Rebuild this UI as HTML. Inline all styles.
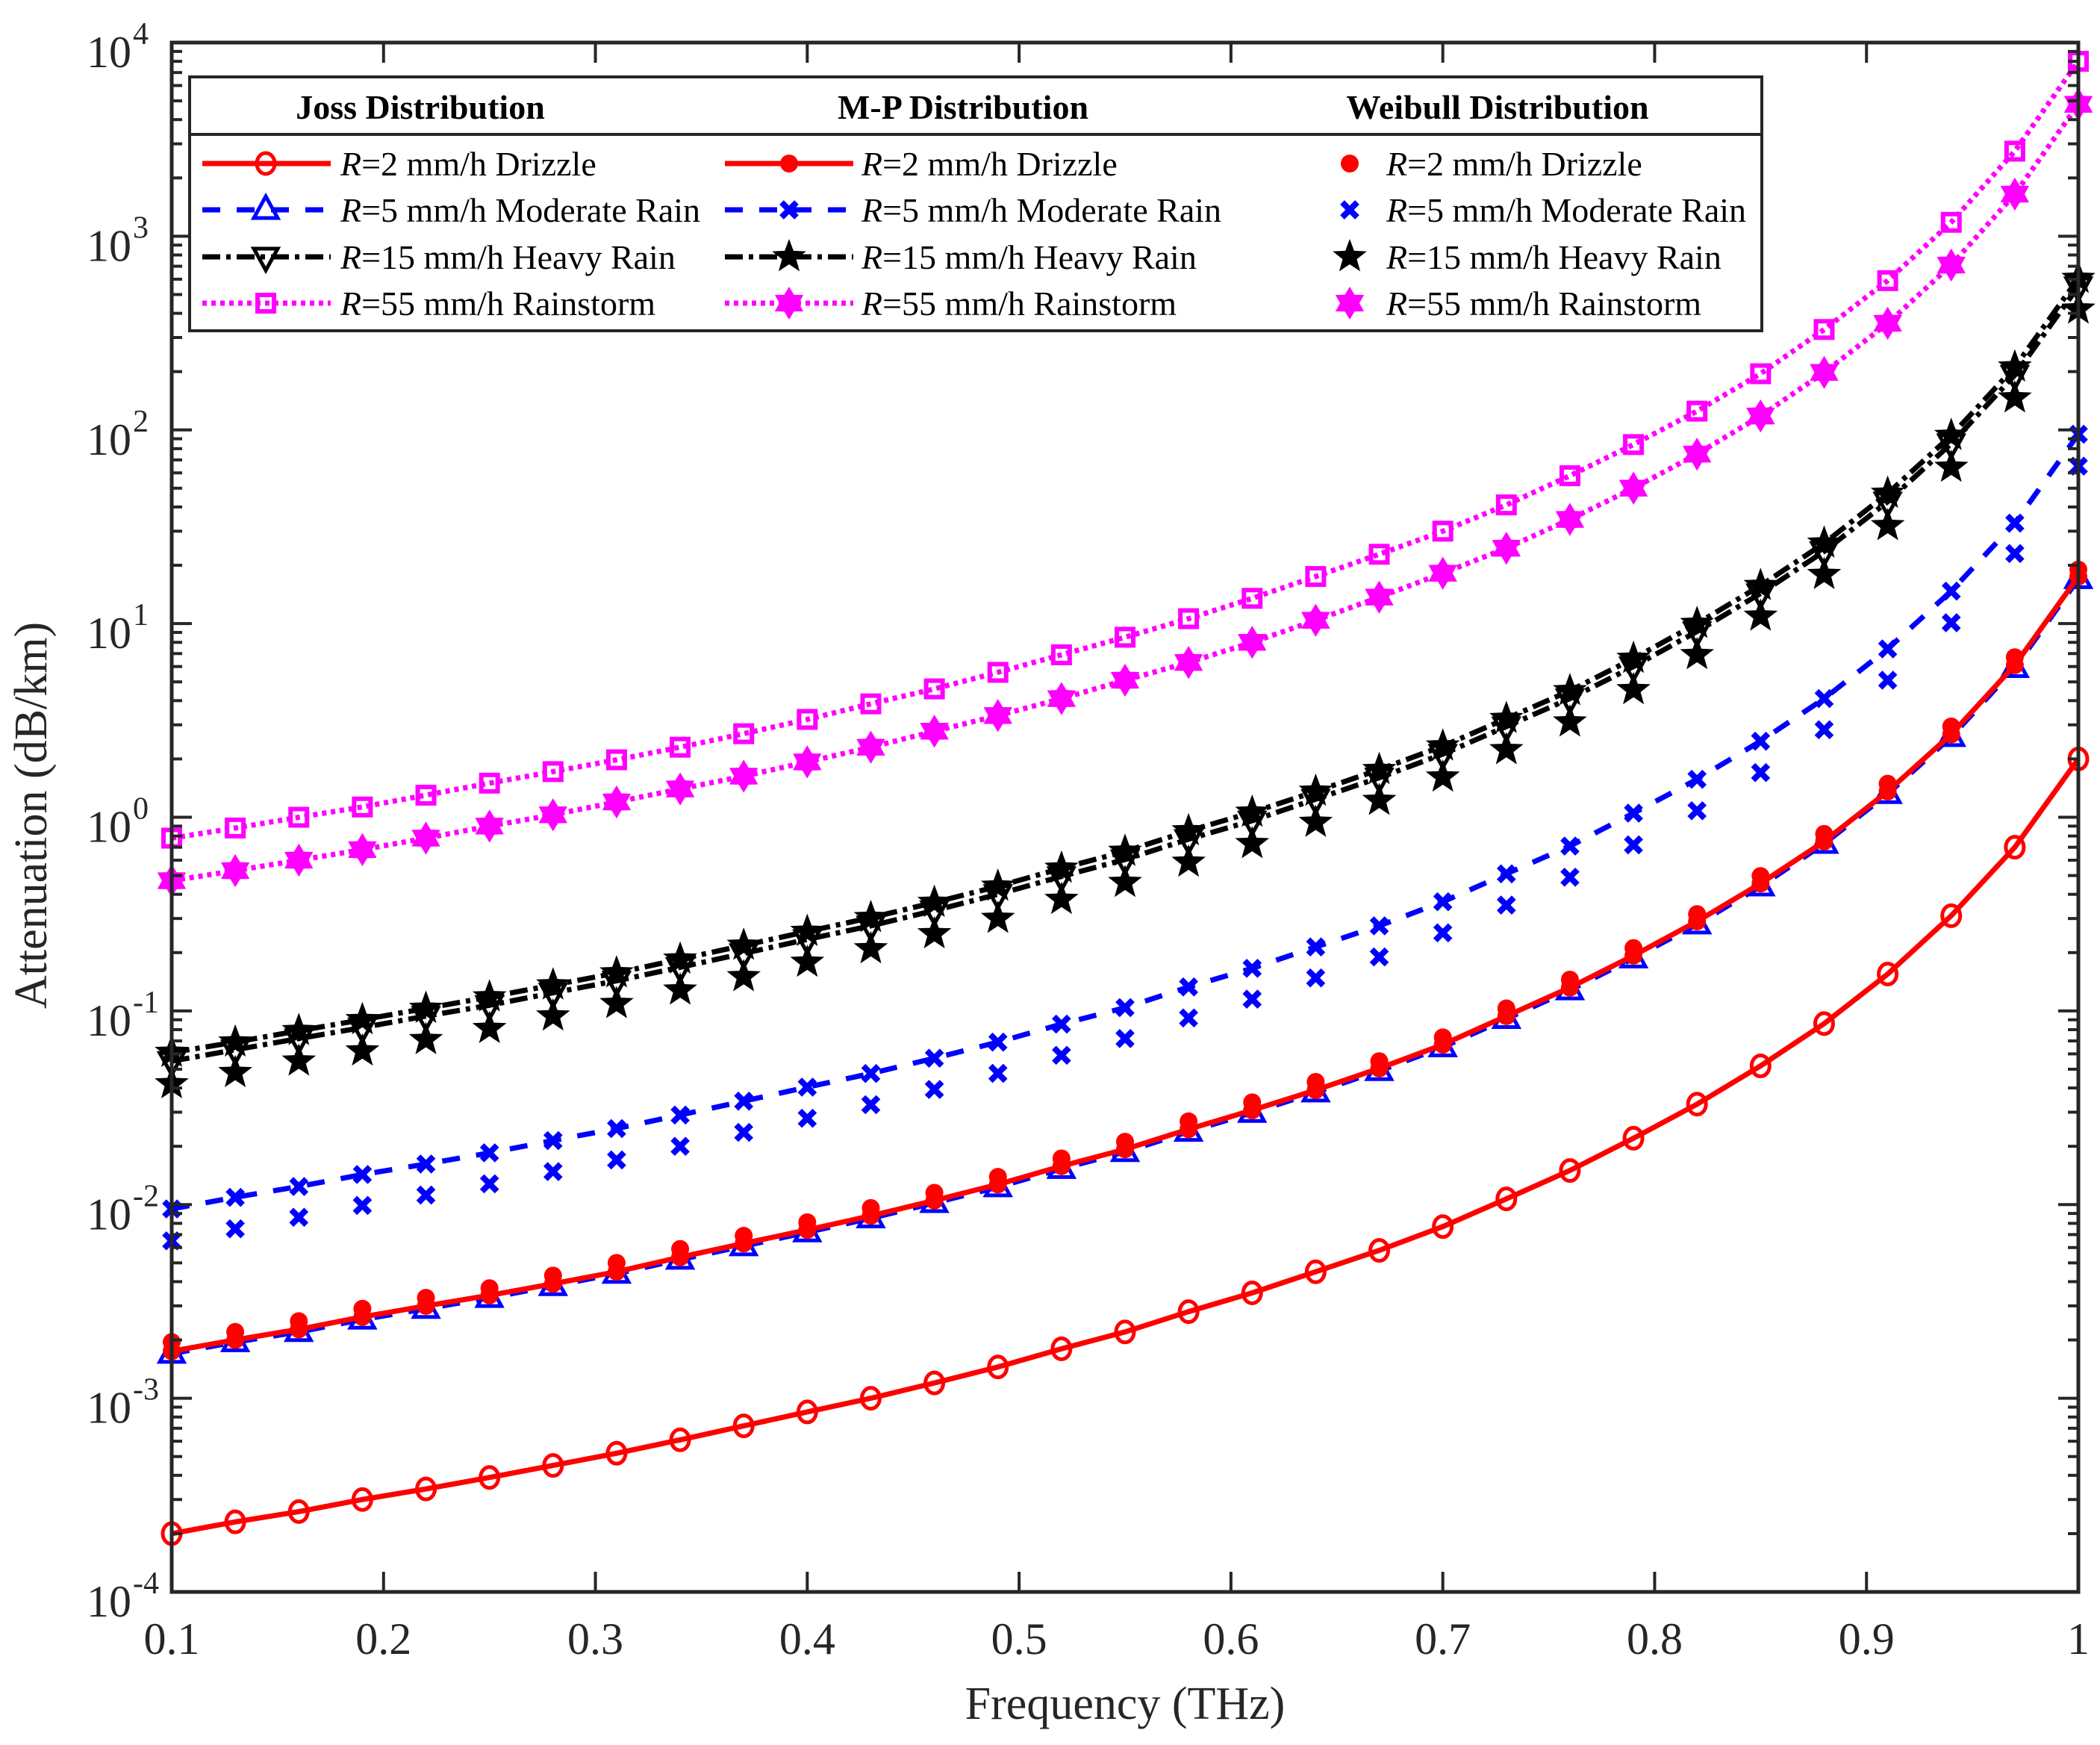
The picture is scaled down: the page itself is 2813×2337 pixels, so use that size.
<!DOCTYPE html>
<html><head><meta charset="utf-8"><style>
html,body{margin:0;padding:0;background:#fff;}
svg{display:block;font-family:"Liberation Serif",serif;}
</style></head><body>
<svg id="chart" width="2813" height="2337" viewBox="0 0 2813 2337" xmlns="http://www.w3.org/2000/svg">
<g id="plot"></g>
<g id="axes"></g>
<g id="legend"></g>
<text x="1507" y="2302" font-size="62" text-anchor="middle" fill="#262626">Frequency (THz)</text>
<text transform="translate(62,1092) rotate(-90)" font-size="62" text-anchor="middle" fill="#262626">Attenuation (dB/km)</text>
</svg>
<script>
const freqs = [0.1,0.13,0.16,0.19,0.22,0.25,0.28,0.31,0.34,0.37,0.40,0.43,0.46,0.49,0.52,0.55,0.58,0.61,0.64,0.67,0.70,0.73,0.76,0.79,0.82,0.85,0.88,0.91,0.94,0.97,1.0];
const joss2 = [2.0e-4,2.3e-4,2.6e-4,3.0e-4,3.4e-4,3.9e-4,4.5e-4,5.2e-4,6.1e-4,7.2e-4,8.5e-4,1.0e-3,1.2e-3,1.45e-3,1.8e-3,2.2e-3,2.8e-3,3.5e-3,4.5e-3,5.8e-3,7.7e-3,1.07e-2,1.5e-2,2.2e-2,3.3e-2,5.2e-2,8.6e-2,0.155,0.31,0.7,2.0];
const joss5 = [1.7e-3,1.95e-3,2.2e-3,2.55e-3,2.9e-3,3.3e-3,3.8e-3,4.4e-3,5.2e-3,6.1e-3,7.2e-3,8.5e-3,1.02e-2,1.23e-2,1.53e-2,1.87e-2,2.38e-2,2.98e-2,3.8e-2,4.9e-2,6.5e-2,9.1e-2,0.128,0.187,0.28,0.44,0.73,1.32,2.6,5.9,17];
const joss15 = [0.055,0.063,0.072,0.082,0.094,0.107,0.124,0.143,0.168,0.198,0.234,0.275,0.33,0.40,0.495,0.605,0.77,0.96,1.24,1.6,2.12,2.94,4.1,6.0,9.1,14.3,23.6,42.6,85,192,550];
const joss55 = [0.78,0.88,1.0,1.13,1.3,1.5,1.72,1.98,2.3,2.7,3.2,3.85,4.6,5.6,6.9,8.5,10.6,13.5,17.5,22.8,30,41,58,84,125,195,330,590,1180,2750,8000];
const mp2 = [1.75e-3,2.0e-3,2.27e-3,2.63e-3,3.0e-3,3.4e-3,3.9e-3,4.5e-3,5.35e-3,6.3e-3,7.4e-3,8.75e-3,1.05e-2,1.27e-2,1.58e-2,1.93e-2,2.45e-2,3.07e-2,3.9e-2,5.05e-2,6.7e-2,9.4e-2,0.132,0.193,0.29,0.455,0.75,1.36,2.68,6.1,17.5];
const mp5 = [9.5e-3,1.09e-2,1.24e-2,1.43e-2,1.62e-2,1.85e-2,2.14e-2,2.47e-2,2.9e-2,3.42e-2,4.04e-2,4.75e-2,5.7e-2,6.9e-2,8.55e-2,0.104,0.133,0.166,0.214,0.275,0.366,0.51,0.71,1.05,1.57,2.47,4.1,7.4,14.7,33,95];
const mp15 = [0.061,0.069,0.079,0.09,0.103,0.118,0.136,0.157,0.185,0.218,0.257,0.303,0.363,0.44,0.545,0.666,0.85,1.06,1.36,1.76,2.33,3.23,4.5,6.6,10,15.7,26,47,93.5,211,605];
const mp55 = [0.47,0.53,0.6,0.68,0.78,0.9,1.03,1.2,1.4,1.63,1.93,2.3,2.78,3.35,4.1,5.1,6.3,8.0,10.4,13.7,18.2,24.5,34.5,50,75,118,198,355,710,1650,4800];
const wb2 = [1.95e-3,2.2e-3,2.5e-3,2.9e-3,3.3e-3,3.7e-3,4.3e-3,5.0e-3,5.9e-3,6.9e-3,8.1e-3,9.6e-3,1.15e-2,1.39e-2,1.73e-2,2.11e-2,2.69e-2,3.37e-2,4.3e-2,5.5e-2,7.3e-2,0.103,0.145,0.211,0.316,0.497,0.82,1.49,2.94,6.7,19];
const wb5 = [6.5e-3,7.5e-3,8.6e-3,9.9e-3,1.12e-2,1.28e-2,1.48e-2,1.7e-2,2.0e-2,2.36e-2,2.79e-2,3.28e-2,3.93e-2,4.76e-2,5.9e-2,7.2e-2,9.2e-2,0.115,0.148,0.19,0.253,0.352,0.49,0.72,1.08,1.7,2.83,5.1,10.1,23,65];
const wb15 = [0.042,0.048,0.055,0.062,0.071,0.081,0.094,0.109,0.128,0.15,0.178,0.209,0.25,0.30,0.376,0.46,0.585,0.73,0.94,1.22,1.61,2.23,3.1,4.55,6.9,10.9,17.9,32,64,146,420];
const wb55 = [0.47,0.53,0.6,0.68,0.78,0.9,1.03,1.2,1.4,1.63,1.93,2.3,2.78,3.35,4.1,5.1,6.3,8.0,10.4,13.7,18.2,24.5,34.5,50,75,118,198,355,710,1650,4800];
const xTicks = [0.1,0.2,0.3,0.4,0.5,0.6,0.7,0.8,0.9,1];
const xTickLabels = ["0.1","0.2","0.3","0.4","0.5","0.6","0.7","0.8","0.9","1"];
const yExps = [-4,-3,-2,-1,0,1,2,3,4];

const L=230,R=2784,T=57,B=2132;
const NS="http://www.w3.org/2000/svg";
function xs(f){return L+(f-0.1)/0.9*(R-L);}
function ys(v){return B-(Math.log10(v)+4)/8*(B-T);}
function mk(tag,attrs,parent){const e=document.createElementNS(NS,tag);for(const k in attrs)e.setAttribute(k,attrs[k]);parent.appendChild(e);return e;}
const plot=document.getElementById('plot'),axes=document.getElementById('axes'),legend=document.getElementById('legend');

function starPts(cx,cy,ro,ri,n,rot){let p=[];for(let i=0;i<2*n;i++){const r=i%2?ri:ro;const a=rot+i*Math.PI/n;p.push((cx+r*Math.sin(a)).toFixed(1)+','+(cy-r*Math.cos(a)).toFixed(1));}return p.join(' ');}
function marker(type,cx,cy,color,g){
  let e;
  if(type==='circle'){e=mk('ellipse',{cx:cx,cy:cy,rx:12,ry:14,fill:'none',stroke:color,'stroke-width':5},g);}
  else if(type==='dot'){e=mk('circle',{cx:cx,cy:cy,r:12,fill:color},g);}
  else if(type==='tri'){e=mk('polygon',{points:`${cx},${cy-18} ${cx+16},${cy+11} ${cx-16},${cy+11}`,fill:'none',stroke:color,'stroke-width':5},g);}
  else if(type==='trid'){e=mk('polygon',{points:`${cx},${cy+18} ${cx+16},${cy-11} ${cx-16},${cy-11}`,fill:'none',stroke:color,'stroke-width':5},g);}
  else if(type==='sq'){e=mk('rect',{x:cx-11,y:cy-11,width:22,height:22,fill:'none',stroke:color,'stroke-width':6},g);}
  else if(type==='x'){e=mk('path',{d:`M${cx-10},${cy-10}L${cx+10},${cy+10}M${cx-10},${cy+10}L${cx+10},${cy-10}`,stroke:color,'stroke-width':8,fill:'none'},g);}
  else if(type==='star'){e=mk('polygon',{points:starPts(cx,cy,24,10,5,0),fill:color},g);}
  else if(type==='hex'){e=mk('polygon',{points:starPts(cx,cy,22,13,6,0),fill:color},g);}
  
  
}
const series=[
 {n:'joss-2mm',d:joss2,c:'#ff0000',dash:null,m:'circle',line:true},
 {n:'joss-5mm',d:joss5,c:'#0000ff',dash:'24 22',m:'tri',line:true},
 {n:'joss-15mm',d:joss15,c:'#000000',dash:'24 8 6 8',m:'trid',line:true},
 {n:'joss-55mm',d:joss55,c:'#ff00ff',dash:'6 6',m:'sq',line:true},
 {n:'mp-2mm',d:mp2,c:'#ff0000',dash:null,m:'dot',line:true},
 {n:'mp-5mm',d:mp5,c:'#0000ff',dash:'24 22',m:'x',line:true},
 {n:'mp-15mm',d:mp15,c:'#000000',dash:'24 8 6 8',m:'star',line:true},
 {n:'mp-55mm',d:mp55,c:'#ff00ff',dash:'6 6',m:'hex',line:true},
 {n:'weibull-2mm',d:wb2,c:'#ff0000',m:'dot',line:false},
 {n:'weibull-5mm',d:wb5,c:'#0000ff',m:'x',line:false},
 {n:'weibull-15mm',d:wb15,c:'#000000',m:'star',line:false},
 {n:'weibull-55mm',d:wb55,c:'#ff00ff',m:'hex',line:false}
];
series.forEach(s=>{
  const g=mk('g',{},plot);
  
  
  if(s.line){
    const a={points:s.d.map((v,i)=>xs(freqs[i]).toFixed(1)+','+ys(v).toFixed(1)).join(' '),fill:'none',stroke:s.c,'stroke-width':7};
    if(s.dash)a['stroke-dasharray']=s.dash;
    const pl=mk('polyline',a,g);
    
    
  }
  s.d.forEach((v,i)=>marker(s.m,xs(freqs[i]),ys(v),s.c,g));
});

const box=mk('rect',{x:L,y:T,width:R-L,height:B-T,fill:'none',stroke:'#262626','stroke-width':5},axes);


xTicks.forEach((t,i)=>{
  const x=xs(t);
  mk('line',{x1:x,y1:B,x2:x,y2:B-27,stroke:'#262626','stroke-width':4},axes);
  mk('line',{x1:x,y1:T,x2:x,y2:T+27,stroke:'#262626','stroke-width':4},axes);
  const tx=mk('text',{x:x,y:2215,'font-size':60,'text-anchor':'middle',fill:'#262626'},axes);
  tx.textContent=xTickLabels[i];
  
  
});
yExps.forEach(e=>{
  const y=ys(Math.pow(10,e));
  mk('line',{x1:L,y1:y,x2:L+27,y2:y,stroke:'#262626','stroke-width':4},axes);
  mk('line',{x1:R,y1:y,x2:R-27,y2:y,stroke:'#262626','stroke-width':4},axes);
  if(e<4){for(let k=2;k<10;k++){const yy=ys(k*Math.pow(10,e));
    mk('line',{x1:L,y1:yy,x2:L+14,y2:yy,stroke:'#262626','stroke-width':4},axes);
    mk('line',{x1:R,y1:yy,x2:R-14,y2:yy,stroke:'#262626','stroke-width':4},axes);}}
  const tx=mk('text',{x:176,y:y+33,'font-size':60,'text-anchor':'end',fill:'#262626'},axes);
  tx.textContent='10';
  
  
  const ex=mk('text',{x:178,y:y+2,'font-size':42,'text-anchor':'start',fill:'#262626'},axes);
  ex.textContent=String(e);
  
  
});

const lb=mk('rect',{x:254,y:103,width:2106,height:340,fill:'#fff',stroke:'#262626','stroke-width':4},legend);


mk('line',{x1:254,y1:180,x2:2360,y2:180,stroke:'#262626','stroke-width':4},legend);
const heads=[['Joss Distribution',563],['M-P Distribution',1290],['Weibull Distribution',2006]];
heads.forEach(h=>{const t=mk('text',{x:h[1],y:159,'font-size':46,'font-weight':'bold','text-anchor':'middle',fill:'#000'},legend);t.textContent=h[0];
  
  });
const rowsY=[219,281,344,406];
const labels=[['2','Drizzle'],['5','Moderate Rain'],['15','Heavy Rain'],['55','Rainstorm']];
const cols=[{x1:271,x2:443,mx:356,tx:456},{x1:971,x2:1143,mx:1057,tx:1154},{x1:null,mx:1808,tx:1857}];
series.forEach((s,i)=>{
  const c=cols[Math.floor(i/4)],r=i%4,y=rowsY[r];
  const g=mk('g',{},legend);
  
  
  if(c.x1!==null){const a={x1:c.x1,y1:y,x2:c.x2,y2:y,stroke:s.c,'stroke-width':7};if(s.dash)a['stroke-dasharray']=s.dash;mk('line',a,g);}
  marker(s.m,c.mx,y,s.c,g);
  const t=mk('text',{x:c.tx,y:y+16,'font-size':46,fill:'#000'},g);
  t.innerHTML='<tspan font-style="italic">R</tspan>='+labels[r][0]+' mm/h '+labels[r][1];
});
</script>
</body></html>
